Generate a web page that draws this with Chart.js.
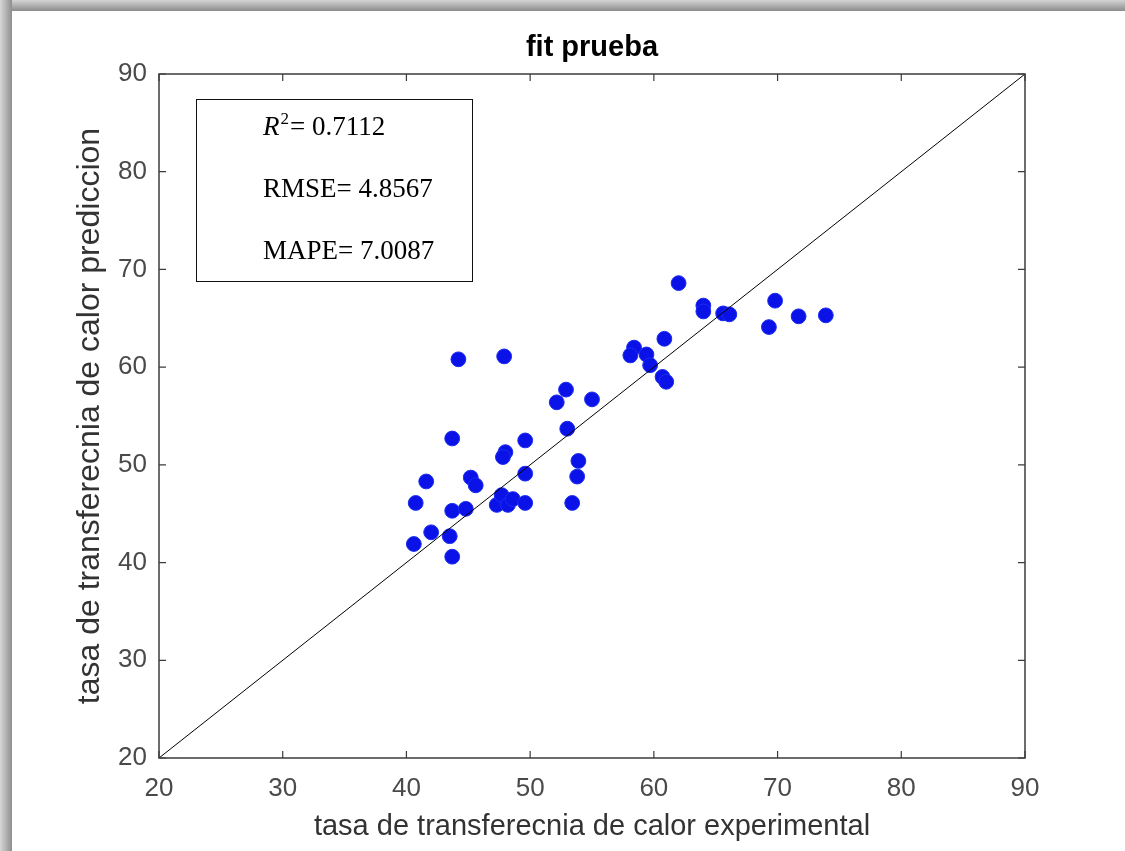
<!DOCTYPE html>
<html><head><meta charset="utf-8">
<script src="https://cdn.jsdelivr.net/npm/chart.js@4"></script>
<style>html,body{margin:0;padding:0;background:#fff;overflow:hidden}#wrap{width:1125px;height:851px}</style>
</head><body><div id="wrap"><canvas id="c" width="1125" height="851"></canvas></div>
<script>
// ---- data ----
const experimental = [44.2, 47.9, 52.9, 52.15, 55.0, 53.0, 43.7, 49.6, 48.0, 47.8, 53.9, 53.8, 49.6, 41.6, 45.2, 45.6, 40.75, 43.7, 44.8, 47.3, 47.7, 48.2, 48.6, 49.6, 53.4, 42.0, 43.5, 40.6, 43.7, 62.0, 64.0, 64.0, 65.6, 66.1, 69.8, 69.3, 71.7, 73.9, 60.85, 58.4, 58.1, 59.4, 59.7, 60.7, 61.0];
const prediction   = [60.8, 61.1, 57.7, 56.4, 56.7, 53.7, 52.7, 52.5, 51.3, 50.8, 50.4, 48.8, 49.1, 48.3, 48.7, 47.9, 46.1, 45.3, 45.5, 45.9, 46.9, 45.9, 46.5, 46.1, 46.1, 43.1, 42.7, 41.9, 40.6, 68.6, 66.3, 65.7, 65.5, 65.4, 66.8, 64.1, 65.2, 65.3, 62.9, 62.0, 61.2, 61.3, 60.2, 59.0, 58.5];
const identityLine = [20, 90];
const axisTicks = [20, 30, 40, 50, 60, 70, 80, 90];
const chartTitle = 'fit prueba';
const xLabel = 'tasa de transferecnia de calor experimental';
const yLabel = 'tasa de transferecnia de calor prediccion';
const statNames = ['R', 'RMSE', 'MAPE'];
const statValues = ['0.7112', '4.8567', '7.0087'];

const SANS = "'Liberation Sans', Arial, sans-serif";
const SERIF = "'Liberation Serif', 'Times New Roman', serif";

const bgPlugin = {
  id: 'bg',
  beforeDraw(chart) {
    const ctx = chart.ctx, W = chart.width, H = chart.height;
    ctx.save();
    ctx.fillStyle = '#fff';
    ctx.fillRect(0, 0, W, H);
    let g = ctx.createLinearGradient(0, 0, 0, 11);
    g.addColorStop(0, '#d4d4d4'); g.addColorStop(1, '#8c8c8c');
    ctx.fillStyle = g; ctx.fillRect(0, 0, W, 11);
    g = ctx.createLinearGradient(0, 0, 12, 0);
    g.addColorStop(0, '#d8d8d8'); g.addColorStop(1, '#8e8e8e');
    ctx.fillStyle = g; ctx.fillRect(0, 0, 12, H);
    ctx.restore();
  }
};

const framePlugin = {
  id: 'frame',
  afterDatasetsDraw(chart) {
    const ctx = chart.ctx, a = chart.chartArea;
    const xs = chart.scales.x, ys = chart.scales.y;
    ctx.save();
    ctx.strokeStyle = '#3c3c3c';
    ctx.lineWidth = 1.5;
    ctx.strokeRect(a.left, a.top, a.right - a.left, a.bottom - a.top);
    ctx.lineWidth = 1.2;
    ctx.beginPath();
    const L = 7;
    axisTicks.forEach(v => {
      const px = xs.getPixelForValue(v);
      ctx.moveTo(px, a.bottom); ctx.lineTo(px, a.bottom - L);
      ctx.moveTo(px, a.top); ctx.lineTo(px, a.top + L);
      const py = ys.getPixelForValue(v);
      ctx.moveTo(a.left, py); ctx.lineTo(a.left + L, py);
      ctx.moveTo(a.right, py); ctx.lineTo(a.right - L, py);
    });
    ctx.stroke();
    ctx.restore();
  }
};

const statsPlugin = {
  id: 'stats',
  afterDraw(chart) {
    const ctx = chart.ctx, a = chart.chartArea;
    const bx = a.left + 37, by = a.top + 25, bw = 276, bh = 182;
    ctx.save();
    ctx.strokeStyle = '#111';
    ctx.lineWidth = 1;
    ctx.strokeRect(bx + 0.5, by + 0.5, bw, bh);
    ctx.fillStyle = '#000';
    ctx.textBaseline = 'alphabetic';
    ctx.textAlign = 'left';
    const tx = bx + 67;
    const baselines = [by + 36, by + 98, by + 160];
    ctx.font = 'italic 27px ' + SERIF;
    ctx.fillText(statNames[0], tx, baselines[0]);
    let w = ctx.measureText(statNames[0]).width;
    ctx.font = '17px ' + SERIF;
    ctx.fillText('2', tx + w + 1, baselines[0] - 11);
    w += ctx.measureText('2').width + 2;
    ctx.font = '27px ' + SERIF;
    ctx.fillText('= ' + statValues[0], tx + w, baselines[0]);
    for (let i = 1; i < 3; i++) {
      ctx.fillText(statNames[i] + '= ' + statValues[i], tx, baselines[i]);
    }
    ctx.restore();
  }
};

new Chart(document.getElementById('c'), {
  type: 'scatter',
  data: {
    datasets: [
      {
        type: 'line',
        data: identityLine.map(v => ({x: v, y: v})),
        borderColor: '#000',
        borderWidth: 1,
        pointRadius: 0,
        showLine: true,
        fill: false,
        order: 0
      },
      {
        data: experimental.map((x, i) => ({x: x, y: prediction[i]})),
        backgroundColor: '#0a12e8',
        borderColor: '#1a2cf0',
        borderWidth: 1,
        pointRadius: 7.4,
        order: 1
      }
    ]
  },
  options: {
    responsive: false,
    animation: false,
    devicePixelRatio: 1,
    layout: { padding: { left: 0, right: 100, top: 0, bottom: 0 } },
    plugins: {
      legend: { display: false },
      tooltip: { enabled: false },
      title: {
        display: true,
        text: chartTitle,
        fullSize: false,
        color: '#000',
        font: { family: SANS, size: 29, weight: 'bold' },
        padding: { top: 30.6, bottom: 8.6 }
      }
    },
    scales: {
      x: {
        type: 'linear', position: 'bottom', min: 20, max: 90,
        afterBuildTicks: s => { s.ticks = axisTicks.map(v => ({value: v})); },
        ticks: { font: { family: SANS, size: 26 }, color: '#4a4a4a', padding: 15.4, maxRotation: 0 },
        grid: { display: false, drawTicks: false },
        border: { display: false },
        title: { display: true, text: xLabel, color: '#333', font: { family: SANS, size: 29 }, padding: { top: 0, bottom: 6.6 } },
        afterFit: s => { s.height = 93; }
      },
      y: {
        type: 'linear', position: 'left', min: 20, max: 90,
        afterBuildTicks: s => { s.ticks = axisTicks.map(v => ({value: v})); },
        ticks: { font: { family: SANS, size: 26 }, color: '#4a4a4a', padding: 12 },
        grid: { display: false, drawTicks: false },
        border: { display: false },
        title: { display: true, text: yLabel, color: '#333', font: { family: SANS, size: 32 }, padding: { top: 71, bottom: 0 } },
        afterFit: s => { s.width = 159; }
      }
    }
  },
  plugins: [bgPlugin, framePlugin, statsPlugin]
});
</script>
</body></html>
